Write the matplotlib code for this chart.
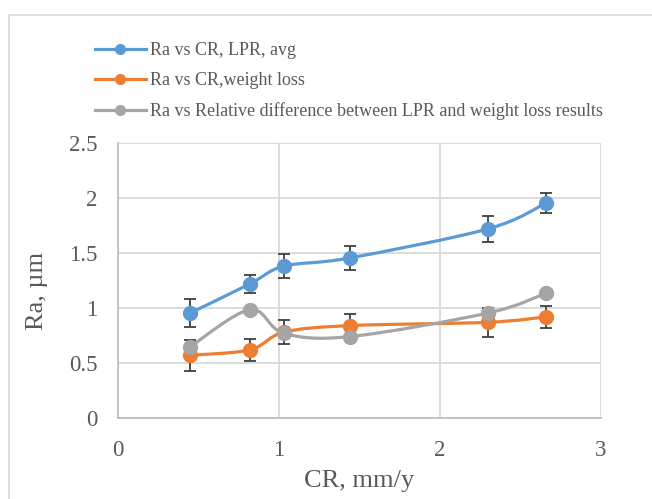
import matplotlib
matplotlib.use("Agg")
import matplotlib.pyplot as plt
import numpy as np
from matplotlib.path import Path
from matplotlib.patches import PathPatch, Rectangle
from matplotlib.lines import Line2D

# ---- data ----
cr = [0.45, 0.82, 1.03, 1.44, 2.30, 2.66]
ra_lpr = [0.955, 1.22, 1.38, 1.455, 1.72, 1.955]
err_lpr = [0.13, 0.08, 0.11, 0.11, 0.12, 0.09]
ra_wl = [0.57, 0.62, 0.78, 0.84, 0.87, 0.92]
err_wl = [0.14, 0.10, 0.11, 0.11, 0.13, 0.10]
ra_rel = [0.65, 0.985, 0.77, 0.74, 0.955, 1.135]

labels = ["Ra vs CR, LPR, avg",
          "Ra vs CR,weight loss",
          "Ra vs Relative difference between LPR and weight loss results"]
colors = ["#5B9BD5", "#ED7D31", "#A5A5A5"]
xticks = [0, 1, 2, 3]
yticks = [0, 0.5, 1, 1.5, 2, 2.5]

plt.rcParams['font.family'] = ['Liberation Serif', 'DejaVu Serif']
txt = "#595959"

fig = plt.figure(figsize=(6.52, 4.99), dpi=100)
fig.patches.append(Rectangle((9/652, -0.2), 1.2, 0.2 + 1 - 15/499,
                             transform=fig.transFigure, fill=False,
                             edgecolor="#d9d9d9", linewidth=1.2))
ax = fig.add_axes([118/652, 1 - 418/499, (601-118)/652, (418-143)/499])


def smooth_path(x, y):
    p = np.column_stack([x, y]).astype(float)
    n = len(p)
    verts = [p[0]]
    codes = [Path.MOVETO]
    for i in range(n - 1):
        p0 = p[i - 1] if i > 0 else p[i]
        p1 = p[i]
        p2 = p[i + 1]
        p3 = p[i + 2] if i + 2 < n else p[i + 1]
        c1 = p1 + (p2 - p0) / 6.0
        c2 = p2 - (p3 - p1) / 6.0
        verts += [c1, c2, p2]
        codes += [Path.CURVE4] * 3
    return Path(verts, codes)


series = [(ra_lpr, err_lpr), (ra_wl, err_wl), (ra_rel, None)]
handles = []
for k, ((yv, ev), c, lab) in enumerate(zip(series, colors, labels)):
    z = 3 + k * 3
    if ev is not None:
        ax.errorbar(cr, yv, yerr=ev, fmt="none", ecolor="#404040",
                    elinewidth=1.3, capsize=4, capthick=1.3, zorder=z)
    ax.add_patch(PathPatch(smooth_path(cr, yv), facecolor="none",
                           edgecolor=c, linewidth=2.3, zorder=z + 1,
                           capstyle="round", joinstyle="round"))
    ax.plot(cr, yv, linestyle="none", marker="o", markersize=10,
            color=c, zorder=z + 2)
    handles.append(Line2D([], [], color=c, linewidth=2.3, marker="o",
                          markersize=7))

ax.set_xlim(0, 3)
ax.set_ylim(0, 2.5)
ax.set_xticks(xticks)
ax.set_xticklabels([str(v) for v in xticks])
ax.set_yticks(yticks)
ax.set_yticklabels([f"{v:g}" for v in yticks])
ax.grid(True, color="#d9d9d9", linewidth=1.3)
ax.set_axisbelow(True)
for s in ["top", "right"]:
    ax.spines[s].set_visible(False)
for s in ["left", "bottom"]:
    ax.spines[s].set_color("#bfbfbf")
    ax.spines[s].set_linewidth(1.3)
ax.tick_params(length=0, labelsize=16.5, colors=txt, pad=15)
ax.tick_params(axis="x", pad=16)
ax.set_xlabel("CR, mm/y", fontsize=19, color=txt, labelpad=6)
ax.set_ylabel("Ra, µm", fontsize=19, color=txt, labelpad=12)
ax.yaxis.set_label_coords(-0.145, (418 - 291) / 275)

fig.legend(handles, labels, loc="upper left",
           bbox_to_anchor=(86/652, 1 - 33/499), frameon=False,
           fontsize=13, labelcolor=txt, handlelength=2.8,
           handletextpad=0.25, labelspacing=0.72, borderpad=0)

fig.savefig("out.png", dpi=100)
